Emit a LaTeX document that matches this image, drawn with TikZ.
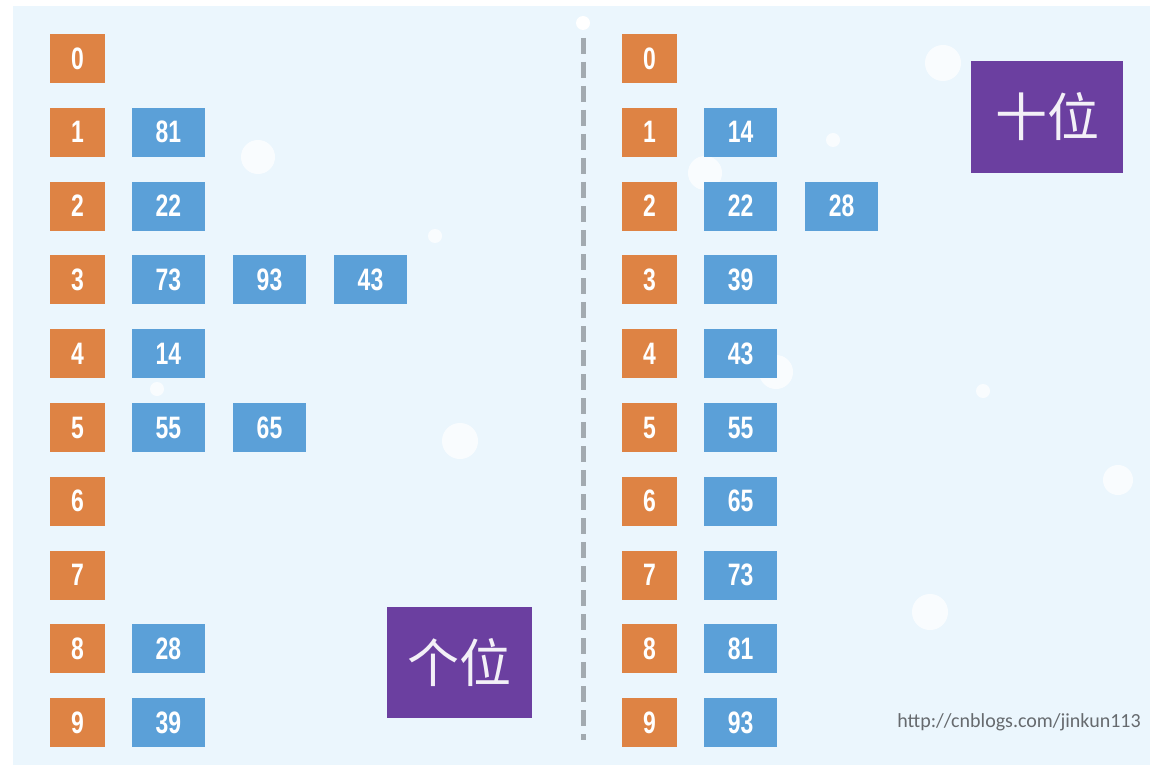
\documentclass[tikz,border=0pt]{standalone}
\usepackage{fontspec}
\newfontfamily\numfont[FakeStretch=0.74]{Liberation Sans}
\newfontfamily\cjk{Noto Sans CJK SC}
\newfontfamily\urlfont{Carlito}
\definecolor{bgpanel}{HTML}{EBF6FD}
\definecolor{boxorange}{HTML}{DE8344}
\definecolor{boxblue}{HTML}{5BA0D8}
\definecolor{boxpurple}{HTML}{6B3FA0}
\definecolor{dashgrey}{HTML}{A2AAB0}
\definecolor{urlgrey}{HTML}{666A6E}
\tikzset{
  idxbox/.style={rectangle, fill=boxorange, minimum width=55pt, minimum height=49pt, inner sep=0pt, text=white, font=\numfont\bfseries\fontsize{31}{31}\selectfont},
  valbox/.style={rectangle, fill=boxblue, minimum width=73pt, minimum height=49pt, inner sep=0pt, text=white, font=\numfont\bfseries\fontsize{31}{31}\selectfont},
  tagbox/.style={rectangle, fill=boxpurple, inner sep=0pt, text=white!92!boxpurple, font=\cjk\fontsize{52}{52}\selectfont},
  bubble/.style={circle, fill=white, fill opacity=0.75, inner sep=0pt, draw=none}
}
\begin{document}
\begin{tikzpicture}[x=1pt,y=-1pt]
\useasboundingbox (0,0) rectangle (1150,770);
\fill[white] (0,0) rectangle (1150,770);
\fill[bgpanel] (13,6) rectangle (1150,765);
% bubbles
\node[bubble, minimum size=34pt] (b1) at (258,157) {};
\node[bubble, minimum size=14pt] (b2) at (435,236) {};
\node[bubble, minimum size=36pt] (b3) at (460,441) {};
\node[bubble, minimum size=14pt] (b4) at (157,389) {};
\node[bubble, minimum size=34pt] (b5) at (705,173) {};
\node[bubble, minimum size=14pt] (b6) at (833,140) {};
\node[bubble, minimum size=36pt] (b7) at (943,63) {};
\node[bubble, minimum size=34pt] (b8) at (776,372) {};
\node[bubble, minimum size=14pt] (b9) at (983,391) {};
\node[bubble, minimum size=36pt] (b10) at (930,612) {};
\node[bubble, minimum size=30pt] (b11) at (1118,480) {};
% dashed divider
\node[circle, fill=white, minimum size=14pt, inner sep=0pt] (dtop) at (583,23) {};
\coordinate (dstart) at (583,38);
\coordinate (dend) at (583,740);
\draw[dashgrey, line width=5pt, dash pattern=on 16pt off 8pt] (dstart) -- (dend);
% left: ones digit buckets
\foreach \i in {0,...,9} {
  \node[idxbox] (L\i) at (77.5,{58.5+73.8*\i}) {\i};
}
\node[valbox] (L1a) at (168.5,132.3) {81};
\node[valbox] (L2a) at (168.5,206.1) {22};
\node[valbox] (L3a) at (168.5,279.9) {73};
\node[valbox] (L3b) at (269.5,279.9) {93};
\node[valbox] (L3c) at (370.5,279.9) {43};
\node[valbox] (L4a) at (168.5,353.7) {14};
\node[valbox] (L5a) at (168.5,427.5) {55};
\node[valbox] (L5b) at (269.5,427.5) {65};
\node[valbox] (L8a) at (168.5,648.9) {28};
\node[valbox] (L9a) at (168.5,722.7) {39};
% right: tens digit buckets
\foreach \i in {0,...,9} {
  \node[idxbox] (R\i) at (649.5,{58.5+73.8*\i}) {\i};
}
\node[valbox] (R1a) at (740.5,132.3) {14};
\node[valbox] (R2a) at (740.5,206.1) {22};
\node[valbox] (R2b) at (841.5,206.1) {28};
\node[valbox] (R3a) at (740.5,279.9) {39};
\node[valbox] (R4a) at (740.5,353.7) {43};
\node[valbox] (R5a) at (740.5,427.5) {55};
\node[valbox] (R6a) at (740.5,501.3) {65};
\node[valbox] (R7a) at (740.5,575.1) {73};
\node[valbox] (R8a) at (740.5,648.9) {81};
\node[valbox] (R9a) at (740.5,722.7) {93};
% labels
\node[tagbox, minimum width=145pt, minimum height=111pt] (ones) at (459.5,662.5) {个位};
\node[tagbox, minimum width=152pt, minimum height=112pt] (tens) at (1047,117) {十位};
\node[text=urlgrey, font=\urlfont\fontsize{20}{20}\selectfont, anchor=east, inner sep=0pt] (url) at (1141,722) {http://cnblogs.com/jinkun113};
\end{tikzpicture}
\end{document}
